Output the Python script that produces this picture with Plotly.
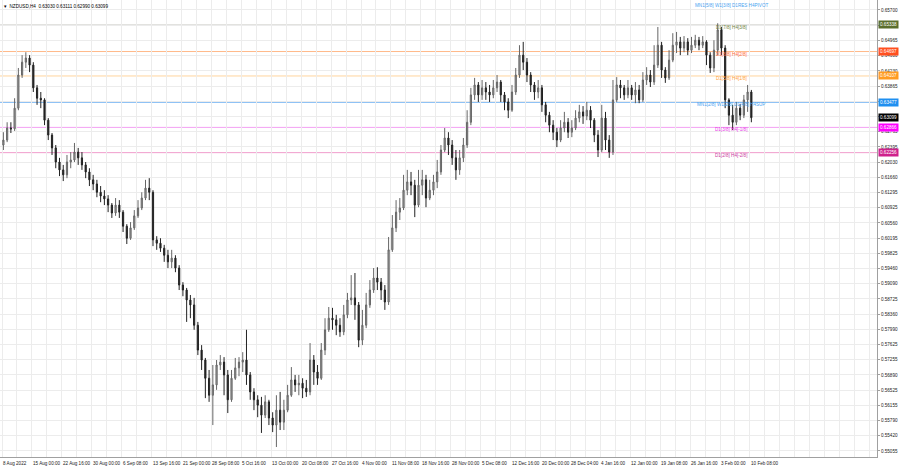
import plotly.graph_objects as go

# Aggregated H4 candles (each = 4 H4 bars)
opens = [
 .6244,.6256,.6285,.6283,.6333,.6413,.6444,.6454,.6437,.6382,
 .6357,.6353,.6304,.6268,.6237,.6203,.6184,.6172,.6203,.6208,
 .6227,.6213,.6196,.6179,.6160,.6150,.6130,.6121,.6114,.6099,
 .6080,.6099,.6082,.6048,.6019,.6044,.6073,.6092,.6116,.6140,
 .6130,.6015,.6007,.5995,.5978,.5962,.5971,.5947,.5906,.5894,
 .5870,.5858,.5809,.5749,.5725,.5681,.5640,.5665,.5713,.5720,
 .5689,.5629,.5681,.5706,.5720,.5725,.5689,.5648,.5629,.5616,
 .5592,.5624,.5585,.5568,.5604,.5575,.5604,.5640,.5677,.5665,
 .5669,.5657,.5648,.5725,.5696,.5681,.5749,.5798,.5826,.5822,
 .5809,.5793,.5834,.5870,.5875,.5858,.5773,.5809,.5858,.5894,
 .5923,.5913,.5894,.5865,.5991,.6044,.6082,.6092,.6135,.6155,
 .6147,.6099,.6147,.6160,.6116,.6135,.6155,.6179,.6232,.6261,
 .6244,.6213,.6184,.6213,.6244,.6299,.6365,.6389,.6365,.6382,
 .6372,.6365,.6382,.6396,.6365,.6348,.6328,.6372,.6413,.6461,
 .6444,.6413,.6389,.6372,.6382,.6341,.6316,.6292,.6275,.6256,
 .6285,.6299,.6275,.6285,.6309,.6324,.6314,.6328,.6304,.6268,
 .6232,.6309,.6256,.6227,.6353,.6389,.6382,.6365,.6382,.6365,
 .6377,.6353,.6401,.6413,.6396,.6437,.6485,.6425,.6406,.6449,
 .6485,.6493,.6478,.6493,.6473,.6485,.6497,.6485,.6493,.6461,
 .6430,.6473,.6522,.6478,.6353,.6316,.6299,.6333,.6316,.6353,
 .6372]
closes = [
 .6256,.6285,.6283,.6333,.6413,.6444,.6454,.6437,.6382,.6357,
 .6353,.6304,.6268,.6237,.6203,.6184,.6172,.6203,.6208,.6227,
 .6213,.6196,.6179,.6160,.6150,.6130,.6121,.6114,.6099,.6080,
 .6099,.6082,.6048,.6019,.6044,.6073,.6092,.6116,.6140,.6130,
 .6015,.6007,.5995,.5978,.5962,.5971,.5947,.5906,.5894,.5870,
 .5858,.5809,.5749,.5725,.5681,.5640,.5665,.5713,.5720,.5689,
 .5629,.5681,.5706,.5720,.5725,.5689,.5648,.5629,.5616,.5592,
 .5624,.5585,.5568,.5604,.5575,.5604,.5640,.5677,.5665,.5669,
 .5657,.5648,.5725,.5696,.5681,.5749,.5798,.5826,.5822,.5809,
 .5793,.5834,.5870,.5875,.5858,.5773,.5809,.5858,.5894,.5923,
 .5913,.5894,.5865,.5991,.6044,.6082,.6092,.6135,.6155,.6147,
 .6099,.6147,.6160,.6116,.6135,.6155,.6179,.6232,.6261,.6244,
 .6213,.6184,.6213,.6244,.6299,.6365,.6389,.6365,.6382,.6372,
 .6365,.6382,.6396,.6365,.6348,.6328,.6372,.6413,.6461,.6444,
 .6413,.6389,.6372,.6382,.6341,.6316,.6292,.6275,.6256,.6285,
 .6299,.6275,.6285,.6309,.6324,.6314,.6328,.6304,.6268,.6232,
 .6309,.6256,.6227,.6353,.6389,.6382,.6365,.6382,.6365,.6377,
 .6353,.6401,.6413,.6396,.6437,.6485,.6425,.6406,.6449,.6485,
 .6493,.6478,.6493,.6473,.6485,.6497,.6485,.6493,.6461,.6430,
 .6473,.6522,.6478,.6353,.6316,.6299,.6333,.6316,.6353,.6372,
 .63099]
highs = [
 .6275,.6299,.6299,.6357,.6430,.6461,.6468,.6461,.6444,.6389,
 .6372,.6357,.6309,.6273,.6244,.6213,.6196,.6220,.6227,.6249,
 .6237,.6227,.6203,.6188,.6172,.6160,.6145,.6135,.6123,.6104,
 .6116,.6111,.6087,.6053,.6058,.6087,.6111,.6130,.6160,.6164,
 .6135,.6024,.6019,.6003,.5991,.5991,.5978,.5954,.5913,.5899,
 .5882,.5875,.5817,.5761,.5730,.5701,.5713,.5725,.5737,.5732,
 .5701,.5701,.5730,.5732,.5744,.5798,.5696,.5657,.5640,.5636,
 .5640,.5629,.5599,.5640,.5648,.5629,.5665,.5708,.5689,.5689,
 .5681,.5677,.5766,.5737,.5713,.5766,.5826,.5853,.5851,.5834,
 .5826,.5858,.5887,.5930,.5935,.5865,.5846,.5887,.5918,.5947,
 .5949,.5923,.5906,.6022,.6075,.6111,.6116,.6172,.6184,.6179,
 .6160,.6184,.6184,.6172,.6160,.6172,.6208,.6244,.6285,.6275,
 .6256,.6232,.6232,.6261,.6328,.6382,.6406,.6396,.6401,.6396,
 .6389,.6401,.6413,.6401,.6372,.6357,.6389,.6430,.6485,.6493,
 .6454,.6420,.6396,.6401,.6389,.6348,.6324,.6304,.6285,.6304,
 .6324,.6309,.6304,.6328,.6341,.6338,.6348,.6338,.6309,.6280,
 .6341,.6324,.6268,.6401,.6408,.6401,.6389,.6401,.6389,.6396,
 .6389,.6420,.6432,.6425,.6485,.6529,.6493,.6432,.6473,.6514,
 .6517,.6505,.6507,.6502,.6505,.6510,.6505,.6507,.6497,.6468,
 .6497,.6538,.6529,.6485,.6357,.6341,.6348,.6343,.6365,.6389,
 .6377]
lows = [
 .6232,.6251,.6273,.6278,.6328,.6406,.6430,.6420,.6372,.6341,
 .6333,.6292,.6256,.6220,.6188,.6169,.6157,.6164,.6188,.6203,
 .6196,.6184,.6164,.6145,.6135,.6118,.6106,.6099,.6082,.6068,
 .6073,.6068,.6034,.6005,.6015,.6039,.6068,.6087,.6111,.6111,
 .6000,.5991,.5986,.5962,.5947,.5947,.5937,.5894,.5879,.5817,
 .5826,.5798,.5737,.5701,.5633,.5624,.5568,.5653,.5701,.5640,
 .5597,.5624,.5677,.5686,.5696,.5665,.5629,.5604,.5587,.5549,
 .5585,.5568,.5551,.5515,.5556,.5556,.5599,.5636,.5648,.5640,
 .5633,.5636,.5640,.5665,.5665,.5677,.5737,.5793,.5798,.5785,
 .5781,.5785,.5826,.5858,.5822,.5756,.5761,.5802,.5851,.5887,
 .5894,.5870,.5846,.5858,.5986,.6034,.6063,.6087,.6123,.6123,
 .6070,.6094,.6123,.6094,.6111,.6123,.6140,.6172,.6227,.6220,
 .6196,.6160,.6172,.6203,.6237,.6292,.6353,.6348,.6353,.6353,
 .6348,.6357,.6372,.6348,.6328,.6309,.6324,.6365,.6406,.6425,
 .6396,.6372,.6353,.6357,.6324,.6299,.6275,.6256,.6239,.6251,
 .6275,.6261,.6263,.6280,.6299,.6295,.6304,.6285,.6251,.6215,
 .6227,.6232,.6213,.6220,.6348,.6357,.6353,.6357,.6353,.6345,
 .6345,.6348,.6389,.6384,.6389,.6430,.6406,.6394,.6401,.6444,
 .6466,.6461,.6468,.6461,.6466,.6478,.6473,.6478,.6437,.6418,
 .6420,.6461,.6461,.6333,.6292,.6280,.6292,.6304,.6309,.6324,
 .6299]

date_labels = ["8 Aug 2022", "15 Aug 00:00", "22 Aug 16:00", "30 Aug 00:00", "6 Sep 08:00",
               "13 Sep 16:00", "21 Sep 00:00", "28 Sep 08:00", "5 Oct 16:00", "13 Oct 00:00",
               "20 Oct 08:00", "27 Oct 16:00", "4 Nov 00:00", "11 Nov 08:00", "18 Nov 16:00",
               "28 Nov 00:00", "5 Dec 08:00", "12 Dec 16:00", "20 Dec 00:00", "28 Dec 04:00",
               "4 Jan 16:00", "12 Jan 00:00", "19 Jan 08:00", "26 Jan 16:00", "3 Feb 00:00",
               "10 Feb 08:00"]
price_ticks = [0.65700, 0.65335, 0.64965, 0.64600, 0.64230, 0.63865, 0.63500, 0.63130,
               0.62765, 0.62395, 0.62030, 0.61660, 0.61295, 0.60925, 0.60560, 0.60195,
               0.59825, 0.59460, 0.59090, 0.58725, 0.58360, 0.57990, 0.57625, 0.57255,
               0.56890, 0.56525, 0.56155, 0.55790, 0.55420, 0.55055]

# Murrey-style levels: value, line colour, box colour, caption, caption colour
level_values = [0.65338, 0.64697, 0.64107, 0.63477, 0.62866, 0.62256]
level_line_colors = ["#c9c9c2", "#ffb98a", "#ffd49e", "#8fc2f5", "#f3a0f3", "#f09ccc"]
level_line_widths = [1, 1, 1, 2, 1, 1]
level_box_colors = ["#5b6e2c", "#ff4f1f", "#ff9c22", "#1f8ff0", "#ff00ff", "#cf218c"]
level_captions = ["D1[7/8] H4[3/8]", "D1[6/8] H4[2/8]", "D1[5/8] H4[1/8]",
                  "MN1[2/8] W1[2/8] D1[4/8] H4SUP", "D1[3/8] H4[-1/8]", "D1[2/8] H4[-2/8]"]
level_caption_colors = ["#6e7f3c", "#ff6a3a", "#ff9f3a", "#4aa3f0", "#e83ae8", "#c8409e"]
top_caption = "MN1[5/8] W1[3/8] D1RES H4PIVOT"
last_price = 0.63099
header = "NZDUSD,H4  0.63030 0.63111 0.62990 0.63099"

bars_per_candle = 4
bars_per_label = 32
x = list(range(len(closes)))

FONT = "Liberation Sans"
FS = 4.6

fig = go.Figure()
fig.add_trace(go.Candlestick(
    x=x, open=opens, high=highs, low=lows, close=closes,
    increasing=dict(line=dict(color="#666666", width=1), fillcolor="#a6a6a6"),
    decreasing=dict(line=dict(color="#222222", width=1), fillcolor="#222222"),
    whiskerwidth=0, showlegend=False, hoverinfo="skip"))

for v, c, w in zip(level_values, level_line_colors, level_line_widths):
    fig.add_shape(type="line", xref="paper", x0=0, x1=1, yref="y", y0=v, y1=v,
                  line=dict(color=c, width=w), layer="below")

ann = []
cap_x = 731 / 877
for v, t, c in zip(level_values, level_captions, level_caption_colors):
    ann.append(dict(x=cap_x, xref="paper", y=v, yref="y", text=t, showarrow=False,
                    xanchor="center", yanchor="middle", yshift=-2.5,
                    font=dict(size=FS, color=c, family=FONT)))
ann.append(dict(x=cap_x, xref="paper", y=1, yref="paper", text=top_caption, showarrow=False,
                xanchor="center", yanchor="top", yshift=-1,
                font=dict(size=FS, color="#4aa3f0", family=FONT)))
for v, c in zip(level_values + [last_price], level_box_colors + ["#000000"]):
    ann.append(dict(x=1, xref="paper", y=v, yref="y", text=f"{v:.5f}", showarrow=False,
                    xanchor="left", yanchor="middle", xshift=1, bgcolor=c, borderpad=1,
                    font=dict(size=FS, color="#ffffff", family=FONT)))
ann.append(dict(x=0, xref="paper", y=1, yref="paper", text="▾  " + header, showarrow=False,
                xanchor="left", yanchor="top", xshift=2, yshift=-1.5,
                font=dict(size=FS, color="#000000", family=FONT)))
offset = 1.5 / bars_per_candle
step = bars_per_label // bars_per_candle
for k, lab in enumerate(date_labels):
    ann.append(dict(x=k * step - offset, xref="x", y=0, yref="paper", text=lab, showarrow=False,
                    xanchor="left", yanchor="top", yshift=-2, xshift=-1,
                    font=dict(size=FS, color="#222222", family=FONT)))

grid_vals = [m * step / 2 - offset for m in range(2 * len(date_labels) + 8)]

fig.update_layout(
    width=900, height=468, margin=dict(l=0, r=23, t=0, b=11, pad=0),
    paper_bgcolor="#ffffff", plot_bgcolor="#ffffff",
    annotations=ann, showlegend=False, boxgap=0.55,
    xaxis=dict(range=[-0.91, 233.6], rangeslider=dict(visible=False), automargin=False,
               tickvals=grid_vals, showticklabels=False, ticks="",
               showgrid=True, gridcolor="#ececec", gridwidth=1, zeroline=False,
               showline=True, linecolor="#a0a0a0", mirror=True),
    yaxis=dict(range=[0.54909, 0.65941], side="right", tickvals=price_ticks, automargin=False,
               ticktext=[f"{v:.5f}" for v in price_ticks],
               tickfont=dict(size=FS, color="#222222", family=FONT),
               ticks="outside", ticklen=2, tickcolor="#a0a0a0",
               showgrid=True, gridcolor="#ececec", gridwidth=1, zeroline=False,
               showline=True, linecolor="#a0a0a0", mirror=True),
)

fig.write_html("out.html", config={"displayModeBar": False, "staticPlot": True},
               post_script="document.body.style.margin='0';document.body.style.overflow='hidden';")
